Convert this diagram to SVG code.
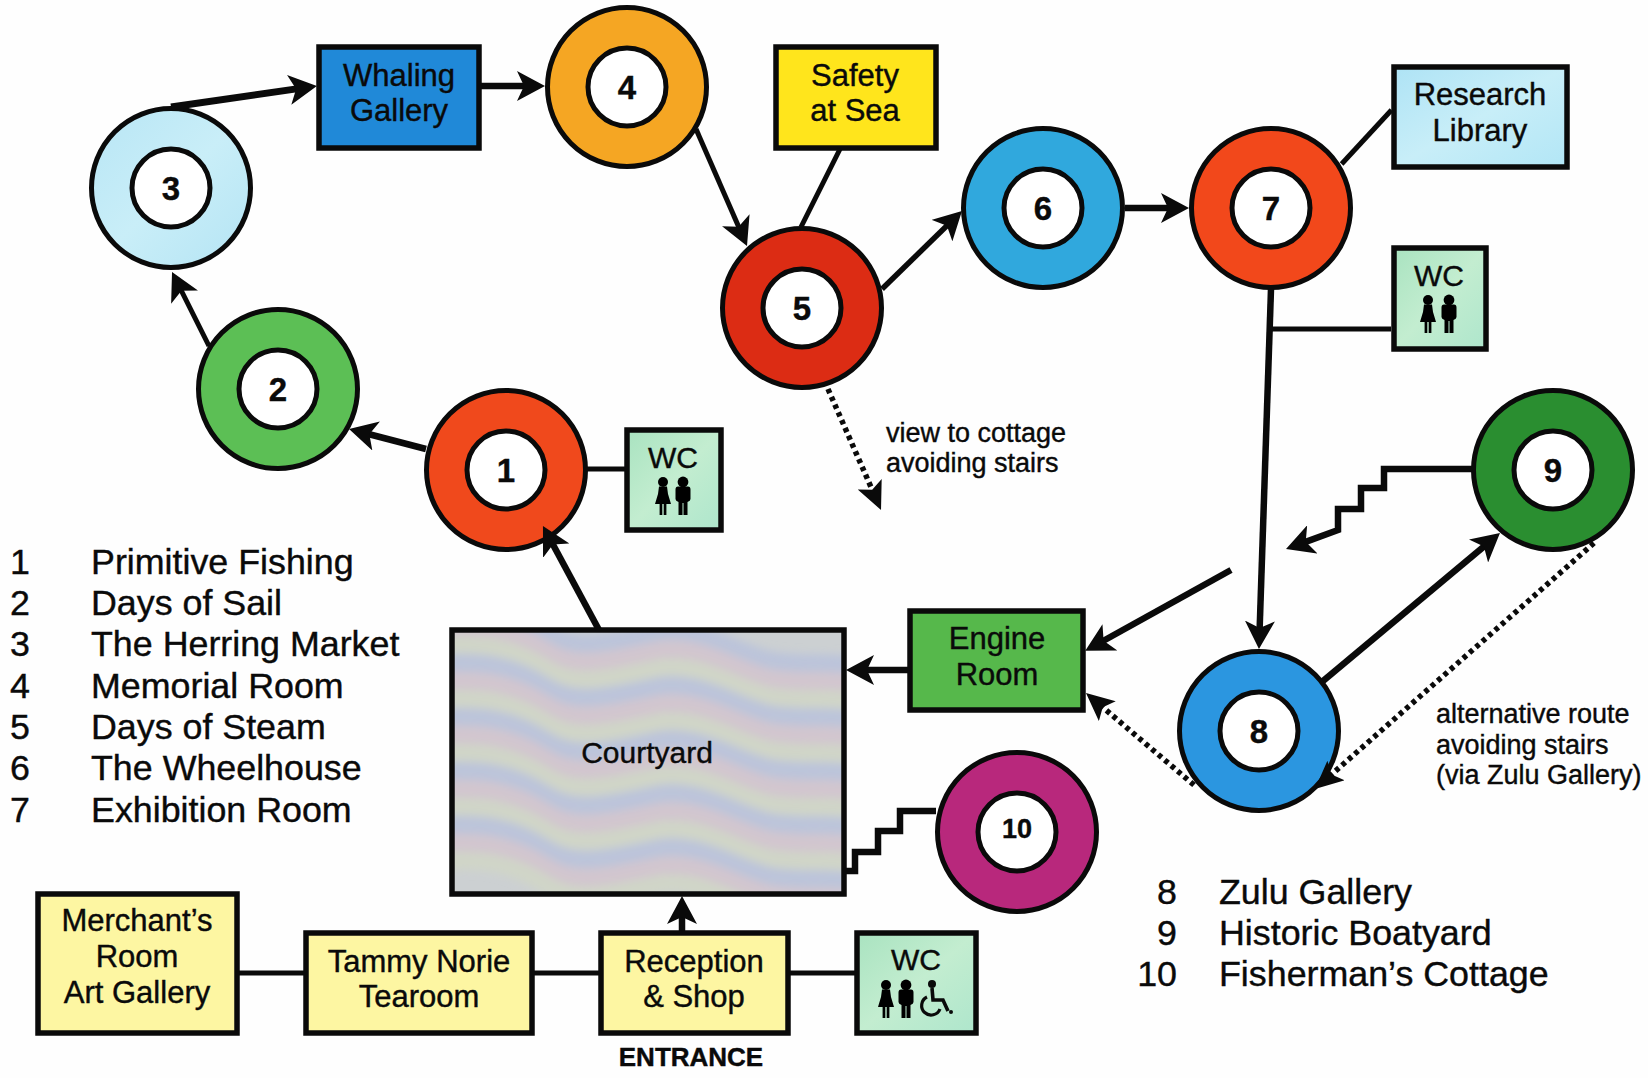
<svg xmlns="http://www.w3.org/2000/svg" xmlns:xlink="http://www.w3.org/1999/xlink" width="1648" height="1078" viewBox="0 0 1648 1078">
<style>
text{font-family:"Liberation Sans",Arial,sans-serif;fill:#0a0a0a;stroke:#0a0a0a;stroke-width:.4}
.bx{stroke:#0a0a0a;stroke-width:5.5}
.ring{stroke:#0a0a0a;stroke-width:5}
.hole{fill:#fff;stroke:#0a0a0a;stroke-width:5}
.n{font-weight:700;font-size:33px;text-anchor:middle}
.l{font-size:31px;text-anchor:middle}
.k{font-size:35.8px}
.kn{font-size:35.8px;text-anchor:end}
.s{font-size:27px}
.wc{font-size:30px;text-anchor:middle}
.c{fill:none;stroke:#0a0a0a;stroke-width:6.5}
.t{fill:none;stroke:#0a0a0a;stroke-width:5}
.d{fill:none;stroke:#0a0a0a;stroke-width:5.5;stroke-dasharray:4.5 4}
.a{marker-end:url(#ah)}
.ad{marker-end:url(#ahd)}
.blue{stroke:#bcc4da}.pink{stroke:#d2c6cf}.cream{stroke:#d0d5c8}
</style>
<defs>
<marker id="ah" markerUnits="userSpaceOnUse" markerWidth="28" markerHeight="30" refX="18" refY="15" orient="auto"><path d="M28 15L0 0L7 15L0 30Z" fill="#0a0a0a"/></marker>
<marker id="ahd" markerUnits="userSpaceOnUse" markerWidth="28" markerHeight="26" refX="18" refY="13" orient="auto"><path d="M28 13L0 0L6 13L0 26Z" fill="#0a0a0a"/></marker>
<linearGradient id="wcg" x1="0" y1="0" x2="1" y2="1"><stop offset="0" stop-color="#a9e3c0"/><stop offset=".5" stop-color="#c3edd0"/><stop offset="1" stop-color="#aee6cc"/></linearGradient>
<linearGradient id="libg" x1="0" y1="0" x2="1" y2="1"><stop offset="0" stop-color="#aee3f5"/><stop offset=".5" stop-color="#c8eef8"/><stop offset="1" stop-color="#b2e6f6"/></linearGradient>
<linearGradient id="r3" x1="0" y1="0" x2="1" y2="1"><stop offset="0" stop-color="#b8e6f5"/><stop offset=".5" stop-color="#c9eef8"/><stop offset="1" stop-color="#b4e4f4"/></linearGradient>
<filter id="soft" x="-5%" y="-5%" width="110%" height="110%"><feGaussianBlur stdDeviation="4.5"/></filter>
<clipPath id="cy"><rect x="452" y="630" width="392" height="264"/></clipPath>
<path id="w" fill="none" stroke-width="18" d="M430 0C480 -4 510 0 545 22C575 42 610 32 660 22C700 16 740 44 770 50C800 56 825 50 860 56"/>
<g id="f"><circle cx="0" cy="-14" r="5"/><path d="M-4-9.5H4L5-2L8 8H3.4V19H.7V8H-.7V19H-3.4V8H-8L-5-2Z"/></g>
<g id="m"><circle cx="0" cy="-14" r="5.4"/><path d="M-5-9.5Q-7.5-9.5-7.5-6.5V3Q-7.5 5-4.5 6V19H-.5V7H.5V19H4.5V6Q7.5 5 7.5 3V-6.5Q7.5-9.5 5-9.5Z"/></g>
</defs>
<rect width="1648" height="1078" fill="#fefefe"/>

<g id="node-courtyard">
<rect x="452" y="630" width="392" height="264" fill="#ccd0d2"/>
<g clip-path="url(#cy)"><g filter="url(#soft)">
<use xlink:href="#w" href="#w" class="blue" x="0" y="610"/><use xlink:href="#w" href="#w" class="pink" x="0" y="628"/><use xlink:href="#w" href="#w" class="cream" x="0" y="646"/>
<use xlink:href="#w" href="#w" class="blue" x="0" y="664"/><use xlink:href="#w" href="#w" class="pink" x="0" y="682"/><use xlink:href="#w" href="#w" class="cream" x="0" y="700"/>
<use xlink:href="#w" href="#w" class="blue" x="0" y="718"/><use xlink:href="#w" href="#w" class="pink" x="0" y="736"/><use xlink:href="#w" href="#w" class="cream" x="0" y="754"/>
<use xlink:href="#w" href="#w" class="blue" x="0" y="772"/><use xlink:href="#w" href="#w" class="pink" x="0" y="790"/><use xlink:href="#w" href="#w" class="cream" x="0" y="808"/>
<use xlink:href="#w" href="#w" class="blue" x="0" y="826"/><use xlink:href="#w" href="#w" class="pink" x="0" y="844"/><use xlink:href="#w" href="#w" class="cream" x="0" y="862"/>
</g></g>
<rect x="452" y="630" width="392" height="264" fill="none" class="bx"/>
<text x="647" y="763" font-size="30" text-anchor="middle">Courtyard</text>
</g>

<g id="node-1"><circle class="ring" cx="506" cy="470" r="79.5" fill="#f0491c"/><circle class="hole" cx="506" cy="470" r="39"/><text class="n" x="506" y="482">1</text></g>
<g id="node-2"><circle class="ring" cx="278" cy="389" r="79.5" fill="#5cbf55"/><circle class="hole" cx="278" cy="389" r="39"/><text class="n" x="278" y="401">2</text></g>
<g id="node-3"><circle class="ring" cx="171" cy="188" r="79.5" fill="url(#r3)"/><circle class="hole" cx="171" cy="188" r="39"/><text class="n" x="171" y="200">3</text></g>
<g id="node-4"><circle class="ring" cx="627" cy="87" r="79.5" fill="#f5a623"/><circle class="hole" cx="627" cy="87" r="39"/><text class="n" x="627" y="99">4</text></g>
<g id="node-5"><circle class="ring" cx="802" cy="308" r="79.5" fill="#dc2c14"/><circle class="hole" cx="802" cy="308" r="39"/><text class="n" x="802" y="320">5</text></g>
<g id="node-6"><circle class="ring" cx="1043" cy="208" r="79.5" fill="#30a8dd"/><circle class="hole" cx="1043" cy="208" r="39"/><text class="n" x="1043" y="220">6</text></g>
<g id="node-7"><circle class="ring" cx="1271" cy="208" r="79.5" fill="#f2481b"/><circle class="hole" cx="1271" cy="208" r="39"/><text class="n" x="1271" y="220">7</text></g>
<g id="node-8"><circle class="ring" cx="1259" cy="731" r="79.5" fill="#2b96e0"/><circle class="hole" cx="1259" cy="731" r="39"/><text class="n" x="1259" y="743">8</text></g>
<g id="node-9"><circle class="ring" cx="1553" cy="470" r="79.5" fill="#2a8e30"/><circle class="hole" cx="1553" cy="470" r="39"/><text class="n" x="1553" y="482">9</text></g>
<g id="node-10"><circle class="ring" cx="1017" cy="832" r="79.5" fill="#b8287c"/><circle class="hole" cx="1017" cy="832" r="39"/><text class="n" style="font-size:27px" x="1017" y="838">10</text></g>

<g id="node-whaling"><rect class="bx" x="319" y="47" width="160" height="101" fill="#2089d8"/><text class="l" x="399" y="86">Whaling</text><text class="l" x="399" y="121">Gallery</text></g>
<g id="node-safety"><rect class="bx" x="776" y="47" width="160" height="101" fill="#ffe51c"/><text class="l" x="855" y="86">Safety</text><text class="l" x="855" y="121">at Sea</text></g>
<g id="node-library"><rect class="bx" x="1394" y="67" width="173" height="100" fill="url(#libg)"/><text class="l" x="1480" y="105">Research</text><text class="l" x="1480" y="141">Library</text></g>
<g id="node-engine"><rect class="bx" x="910" y="611" width="173" height="99" fill="#56b84b"/><text class="l" x="997" y="649">Engine</text><text class="l" x="997" y="685">Room</text></g>
<g id="node-merchant"><rect class="bx" x="38" y="894" width="199" height="139" fill="#fdf6a2"/><text class="l" x="137" y="931">Merchant’s</text><text class="l" x="137" y="967">Room</text><text class="l" x="137" y="1003">Art Gallery</text></g>
<g id="node-tearoom"><rect class="bx" x="306" y="933" width="226" height="100" fill="#fdf6a2"/><text class="l" x="419" y="972">Tammy Norie</text><text class="l" x="419" y="1007">Tearoom</text></g>
<g id="node-reception"><rect class="bx" x="601" y="933" width="187" height="100" fill="#fdf6a2"/><text class="l" x="694" y="972">Reception</text><text class="l" x="694" y="1007">&amp; Shop</text></g>

<g id="node-wc1"><rect class="bx" x="627" y="430" width="94" height="100" fill="url(#wcg)"/><text class="wc" x="673" y="468">WC</text><use href="#f" xlink:href="#f" x="663" y="496"/><use href="#m" xlink:href="#m" x="683" y="496"/></g>
<g id="node-wc7"><rect class="bx" x="1394" y="248" width="92" height="101" fill="url(#wcg)"/><text class="wc" x="1439" y="286">WC</text><use href="#f" xlink:href="#f" x="1428" y="314"/><use href="#m" xlink:href="#m" x="1449" y="314"/></g>
<g id="node-wc-entrance"><rect class="bx" x="857" y="933" width="119" height="100" fill="url(#wcg)"/><text class="wc" x="916" y="970">WC</text><use href="#f" xlink:href="#f" x="886" y="999"/><use href="#m" xlink:href="#m" x="906" y="999"/>
<circle cx="932" cy="984" r="4" fill="#0a0a0a"/><path d="M932 988L933 1000H943L948 1011" fill="none" stroke="#0a0a0a" stroke-width="3.6"/><path d="M927 997A9.5 9.5 0 1 0 940 1009" fill="none" stroke="#0a0a0a" stroke-width="3.2"/><circle cx="951" cy="1012" r="2" fill="#0a0a0a"/></g>

<g id="connectors">
<path class="c a" style="stroke-width:7" d="M171 107L307 87.4"/>
<path class="c a" d="M481 86H535"/>
<path class="t a" d="M696 129L743 236.8"/>
<path class="t a" d="M209 346L176.5 281"/>
<path class="c a" d="M426 449L358.7 431.5"/>
<path class="t" d="M587 469H625"/>
<path class="c a" d="M599 630L547.7 534.8"/>
<path class="t" d="M840 149L801 227"/>
<path class="c a" style="stroke-width:5.5" d="M882 289L954.8 218"/>
<path class="c a" d="M1125 208H1179"/>
<path class="t" d="M1341.6 164L1391.5 110"/>
<path class="c a" d="M1271 289L1259.3 639"/>
<path class="t" d="M1270 329H1391"/>
<path class="c a" d="M1231 570L1094 646"/>
<path class="c a" d="M908 670H856"/>
<path class="c a" d="M682 931V906"/>
<path class="c a" d="M1323 681L1492.3 539.4"/>
<path class="c a" d="M1473 469H1384V488H1361V509H1338V530L1295.4 545.6"/>
<path class="c" d="M936 811H900V831H878V852H855V871H844"/>
<path class="t" d="M239 973H304M534 973H599M790 973H855"/>
<path class="d ad" d="M828 389L877 500.8"/>
<path class="d ad" d="M1594 543L1322.5 782.4"/>
<path class="d ad" d="M1194 785L1093.6 699.5"/>
</g>

<g id="labels">
<text class="s" x="886" y="442">view to cottage</text>
<text class="s" x="886" y="472">avoiding stairs</text>
<text class="s" x="1436" y="723">alternative route</text>
<text class="s" x="1436" y="754">avoiding stairs</text>
<text class="s" x="1436" y="784">(via Zulu Gallery)</text>
<text x="691" y="1066" font-size="26" font-weight="700" text-anchor="middle">ENTRANCE</text>
<text class="k" x="10" y="574">1</text><text class="k" x="91" y="574">Primitive Fishing</text>
<text class="k" x="10" y="615">2</text><text class="k" x="91" y="615">Days of Sail</text>
<text class="k" x="10" y="656">3</text><text class="k" x="91" y="656">The Herring Market</text>
<text class="k" x="10" y="698">4</text><text class="k" x="91" y="698">Memorial Room</text>
<text class="k" x="10" y="739">5</text><text class="k" x="91" y="739">Days of Steam</text>
<text class="k" x="10" y="780">6</text><text class="k" x="91" y="780">The Wheelhouse</text>
<text class="k" x="10" y="822">7</text><text class="k" x="91" y="822">Exhibition Room</text>
<text class="kn" x="1177" y="904">8</text><text class="k" x="1219" y="904">Zulu Gallery</text>
<text class="kn" x="1177" y="945">9</text><text class="k" x="1219" y="945">Historic Boatyard</text>
<text class="kn" x="1177" y="986">10</text><text class="k" x="1219" y="986">Fisherman’s Cottage</text>
</g>
</svg>
